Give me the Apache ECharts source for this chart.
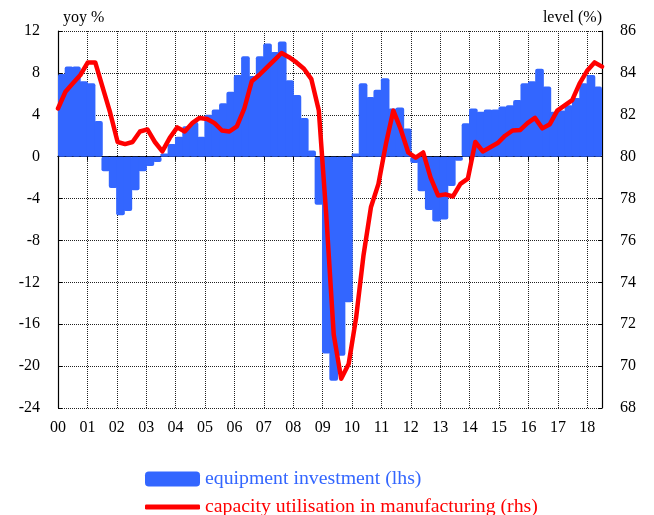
<!DOCTYPE html>
<html><head><meta charset="utf-8">
<script src="https://cdn.jsdelivr.net/npm/echarts@6/dist/echarts.min.js"></script>
<style>html,body{margin:0;padding:0;background:#fff}#c{width:654px;height:515px}</style>
</head><body><div id="c"></div>
<script>
// x-axis tick labels (years)
const yearLabels = ['00','01','02','03','04','05','06','07','08','09','10','11','12','13','14','15','16','17','18'];
// quarterly categories 2000Q1 .. 2018Q2
const quarters = [];
for (let y = 2000; y <= 2018; y++) for (let q = 1; q <= 4; q++) { if (y === 2018 && q > 2) break; quarters.push(y + 'Q' + q); }

// equipment investment, yoy % (lhs)
const equipmentInvestment = [
  7.9, 8.6, 8.6, 7.2, 7.0, 3.4, -1.4, -3.0,
  -5.6, -5.2, -3.2, -1.4, -0.9, -0.5, 0.3, 1.2,
  1.9, 2.9, 3.3, 1.9, 4.0, 4.5, 5.1, 6.2,
  7.8, 9.6, 7.7, 9.6, 10.8, 10.0, 11.0, 7.3,
  5.9, 3.7, 0.6, -4.6, -18.8, -21.4, -19.0, -13.9,
  0.3, 7.0, 5.7, 6.4, 7.5, 4.6, 4.7, 2.7,
  -0.6, -3.3, -5.1, -6.2, -6.0, -2.8, -0.4, 3.2,
  4.6, 4.3, 4.5, 4.5, 4.8, 4.9, 5.4, 7.0,
  7.2, 8.4, 6.7, 4.3, 4.4, 4.9, 5.6, 7.0,
  7.8, 6.7
];
// capacity utilisation in manufacturing, level % (rhs)
const capacityUtilisation = [
  82.3, 83.1, 83.5, 83.9, 84.5, 84.5, 83.3, 82.1,
  80.7, 80.6, 80.7, 81.2, 81.3, 80.7, 80.25, 80.9,
  81.4, 81.2, 81.6, 81.85, 81.8, 81.6, 81.25, 81.2,
  81.45, 82.3, 83.6, 83.9, 84.25, 84.6, 84.95, 84.75,
  84.5, 84.2, 83.7, 82.2, 77.2, 71.5, 69.4, 70.1,
  72.3, 75.3, 77.6, 78.7, 80.6, 82.2, 81.3, 80.2,
  79.95, 80.2, 79.0, 78.15, 78.2, 78.1, 78.7, 78.95,
  80.7, 80.25, 80.45, 80.65, 81.0, 81.25, 81.27, 81.6,
  81.85, 81.35, 81.55, 82.2, 82.45, 82.7, 83.5, 84.1,
  84.5, 84.3
];

const FONT = '"Liberation Serif", "DejaVu Serif", serif';
const BLUE = '#3366ff';
const RED = '#ff0000';
const NAME_BAR = 'equipment investment (lhs)';
const NAME_LINE = 'capacity utilisation in manufacturing (rhs)';

const chart = echarts.init(document.getElementById('c'), null, {renderer: 'canvas'});
chart.setOption({
  animation: false,
  backgroundColor: '#fff',
  grid: {left: 58, right: 52, top: 31, bottom: 107, containLabel: false},
  legend: [
    {
      left: 140, top: 464, itemWidth: 55, itemHeight: 15, selectedMode: false,
      textStyle: {fontFamily: FONT, fontSize: 19.8},
      data: [{name: NAME_BAR, icon: 'roundRect', itemStyle: {color: BLUE}, textStyle: {color: BLUE}}]
    },
    {
      left: 140, top: 492, itemWidth: 55, itemHeight: 5, selectedMode: false,
      textStyle: {fontFamily: FONT, fontSize: 19.8},
      data: [{name: NAME_LINE, icon: 'roundRect', itemStyle: {color: RED}, textStyle: {color: RED}}]
    }
  ],
  xAxis: [
    {
      type: 'value', min: 2000, max: 2018.5, interval: 1, position: 'bottom',
      axisLine: {show: true, lineStyle: {color: '#555', width: 1}},
      axisTick: {show: false},
      axisLabel: {
        margin: 12, fontFamily: FONT, fontSize: 16, color: '#000',
        formatter: v => Number.isInteger(v) ? (yearLabels[v - 2000] || '') : ''
      },
      splitLine: {show: true, lineStyle: {color: '#222', type: 'dotted', width: 1}}
    },
    {
      type: 'value', min: 2000, max: 2018.5, interval: 1, position: 'top',
      axisLine: {show: true, onZero: true, onZeroAxisIndex: 0, lineStyle: {color: '#000', width: 1.2}},
      axisTick: {show: true, inside: true, length: 4, lineStyle: {color: '#000'}},
      axisLabel: {show: false},
      splitLine: {show: false}
    },
    {type: 'category', data: quarters, show: false, boundaryGap: true},
    {type: 'category', data: quarters, show: false, boundaryGap: false}
  ],
  yAxis: [
    {
      type: 'value', min: -24, max: 12, interval: 4, position: 'left',
      name: 'yoy %', nameLocation: 'end', nameGap: 5,
      nameTextStyle: {fontFamily: FONT, fontSize: 16, color: '#000', align: 'left', padding: [0, 0, 0, 5]},
      axisLine: {show: true, lineStyle: {color: '#000', width: 1.2}},
      axisTick: {show: true, inside: true, length: 4, lineStyle: {color: '#000'}},
      axisLabel: {margin: 18, fontFamily: FONT, fontSize: 16, color: '#000'},
      splitLine: {show: true, lineStyle: {color: '#222', type: 'dotted', width: 1}}
    },
    {
      type: 'value', min: 68, max: 86, interval: 2, position: 'right',
      name: 'level (%)', nameLocation: 'end', nameGap: 5,
      nameTextStyle: {fontFamily: FONT, fontSize: 16, color: '#000', align: 'right'},
      axisLine: {show: true, lineStyle: {color: '#000', width: 1.2}},
      axisTick: {show: true, inside: true, length: 4, lineStyle: {color: '#000'}},
      axisLabel: {margin: 18, fontFamily: FONT, fontSize: 16, color: '#000'},
      splitLine: {show: false}
    }
  ],
  series: [
    {
      name: NAME_BAR, type: 'bar', xAxisIndex: 2, yAxisIndex: 0,
      data: equipmentInvestment, barCategoryGap: '0%', barWidth: '118%',
      itemStyle: {color: BLUE, borderWidth: 0, borderRadius: 2},
      z: 2
    },
    {
      name: NAME_LINE, type: 'line', xAxisIndex: 3, yAxisIndex: 1,
      data: capacityUtilisation, symbol: 'none', showSymbol: false,
      lineStyle: {color: RED, width: 4.5, join: 'round', cap: 'round'},
      itemStyle: {color: RED},
      z: 4
    }
  ]
});
</script>
</body></html>
